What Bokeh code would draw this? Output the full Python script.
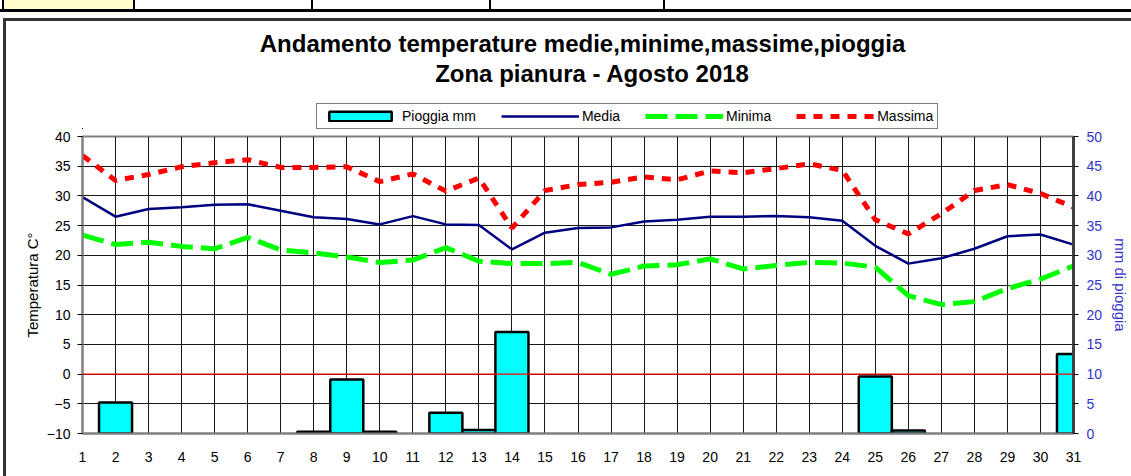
from bokeh.plotting import figure
from bokeh.models import (Range1d, LinearAxis, FixedTicker, Span, Legend, Label,
                          LegendItem, ColumnDataSource, Div)
from bokeh.layouts import column, row
from bokeh.embed import file_html
from bokeh.resources import INLINE

# ---------------- data ----------------
days = list(range(1, 32))
day_labels = [str(d) for d in days]
rain_mm = [0, 5.2, 0, 0, 0, 0, 0, 0.3, 9.1, 0.3, 0, 3.5, 0.6, 17.1, 0, 0, 0, 0, 0, 0,
           0, 0, 0, 0, 9.6, 0.5, 0, 0, 0, 0, 13.4]
media = [29.8, 26.5, 27.8, 28.1, 28.5, 28.6, 27.5, 26.4, 26.1, 25.2, 26.6, 25.2, 25.1, 21.0,
         23.8, 24.6, 24.7, 25.7, 26.0, 26.5, 26.5, 26.6, 26.4, 25.8, 21.6, 18.6, 19.5, 21.1,
         23.2, 23.5, 21.8]
minima = [23.4, 21.8, 22.2, 21.5, 21.1, 23.0, 20.9, 20.4, 19.7, 18.8, 19.2, 21.3, 19.0, 18.6,
          18.6, 18.8, 16.8, 18.2, 18.4, 19.4, 17.7, 18.3, 18.8, 18.7, 18.0, 13.2, 11.7, 12.2,
          14.4, 16.0, 18.2]
massima = [36.8, 32.6, 33.6, 34.9, 35.6, 36.1, 34.8, 34.8, 34.9, 32.4, 33.7, 30.8, 33.0, 24.6,
           30.9, 31.9, 32.3, 33.2, 32.7, 34.2, 33.9, 34.6, 35.4, 34.3, 26.0, 23.6, 27.0, 30.9,
           31.9, 30.4, 28.1]
temp_ticks = list(range(-10, 45, 5))
rain_ticks = list(range(0, 55, 5))
title_1 = "Andamento temperature medie,minime,massime,pioggia"
title_2 = "Zona pianura - Agosto 2018"
legend_labels = ["Pioggia mm", "Media", "Minima", "Massima"]

FONT = "Liberation Sans"
BLUE = "#3333CC"
RAIN_STYLE = dict(fill_color="#00FFFF", line_color="black", line_width=2.5)
MEDIA_STYLE = dict(line_color="#000080", line_width=2.5)
MIN_STYLE = dict(line_color="#00FF00", line_width=5, line_dash="22 8")
MAX_STYLE = dict(line_color="#FF0000", line_width=5, line_dash="9 8")

rain_src = ColumnDataSource(data=dict(
    x=[d for d, r in zip(days, rain_mm) if r > 0],
    top=[r for r in rain_mm if r > 0]))

HEAD_W, HEAD_H = 1125, 108
TOP_GAP = 7

# ---------------- header figure: titles + legend ----------------
# Its data ranges lie away from the data, so the series drawn here only
# serve as legend samples; texts are placed in screen units.
hf = figure(width=HEAD_W, height=HEAD_H, output_backend="svg", toolbar_location=None,
            x_axis_type=None, y_axis_type=None, title=None,
            x_range=Range1d(1000, 2000), y_range=Range1d(1000, 2000), min_border=0,
            background_fill_color="white", border_fill_color="white")
hf.outline_line_color = None
hf.grid.visible = False

hf.add_layout(Label(x=500, y=86, x_units="screen", y_units="screen", text=title_1,
                    text_align="center", text_baseline="alphabetic", text_font=FONT,
                    text_font_size="24px", text_font_style="bold", text_color="black"))
hf.add_layout(Label(x=510, y=56, x_units="screen", y_units="screen", text=title_2,
                    text_align="center", text_baseline="alphabetic", text_font=FONT,
                    text_font_size="24px", text_font_style="bold", text_color="black"))

lg_bar = hf.vbar(x="x", top="top", bottom=0, width=1.0, source=rain_src, **RAIN_STYLE)
lg_media = hf.line(days, media, **MEDIA_STYLE)
lg_min = hf.line(days, minima, **MIN_STYLE)
lg_max = hf.line(days, massima, **MAX_STYLE)
legend = Legend(items=[LegendItem(label=lab, renderers=[r]) for lab, r in
                       zip(legend_labels, (lg_bar, lg_media, lg_min, lg_max))],
                orientation="horizontal", location=(234, 0))
legend.label_text_font = FONT
legend.label_text_font_size = "14px"
legend.label_text_color = "black"
legend.glyph_width = 78
legend.glyph_height = 12
legend.label_height = 15
legend.label_standoff = 3
legend.spacing = 25
legend.padding = 4
legend.margin = 0
legend.border_line_color = "black"
legend.border_line_width = 1
legend.background_fill_color = "white"
legend.background_fill_alpha = 1
hf.add_layout(legend)

# ---------------- main chart ----------------
p = figure(frame_width=991, frame_height=297, output_backend="svg",
           toolbar_location=None, title=None,
           x_range=Range1d(1, 31), y_range=Range1d(-10, 40),
           min_border_left=76, min_border_right=58, min_border_top=TOP_GAP,
           min_border_bottom=43, background_fill_color="white",
           border_fill_color="white")
p.extra_y_ranges = {"rain": Range1d(0, 50)}

p.outline_line_color = "#808080"
p.outline_line_width = 2

p.xgrid.ticker = FixedTicker(ticks=days)
p.ygrid.ticker = FixedTicker(ticks=temp_ticks)
for g in (p.xgrid, p.ygrid):
    g.grid_line_color = "black"
    g.grid_line_width = 1
    g.grid_line_alpha = 0.9

xa = p.xaxis[0]
xa.ticker = FixedTicker(ticks=days)
xa.major_label_overrides = {d: s for d, s in zip(days, day_labels)}
xa.major_tick_out = 0
xa.major_tick_in = 0
xa.minor_tick_out = 0
xa.minor_tick_in = 0
xa.axis_line_color = "#808080"
xa.axis_line_width = 2
xa.major_label_standoff = 18
xa.major_label_text_font = FONT
xa.major_label_text_font_size = "14px"
xa.major_label_text_color = "black"

ya = p.yaxis[0]
ya.ticker = FixedTicker(ticks=temp_ticks)
ya.major_tick_out = 5
ya.major_tick_in = 0
ya.minor_tick_out = 0
ya.minor_tick_in = 0
ya.major_tick_line_color = "black"
ya.axis_line_color = "#808080"
ya.axis_line_width = 2
ya.major_label_standoff = 7
ya.major_label_text_font = FONT
ya.major_label_text_font_size = "14px"
ya.major_label_text_color = "black"
ya.axis_label = "Temperatura C°"
ya.axis_label_text_font = FONT
ya.axis_label_text_font_size = "15px"
ya.axis_label_text_font_style = "normal"
ya.axis_label_text_color = "black"
ya.axis_label_standoff = 3

ra = LinearAxis(y_range_name="rain", ticker=FixedTicker(ticks=rain_ticks))
ra.major_tick_out = 5
ra.major_tick_in = 0
ra.minor_tick_out = 0
ra.minor_tick_in = 0
ra.major_tick_line_color = "black"
ra.axis_line_color = "#404040"
ra.axis_line_width = 3
ra.major_label_standoff = 8
ra.major_label_text_font = FONT
ra.major_label_text_font_size = "14px"
ra.major_label_text_color = BLUE
ra.axis_label = "mm di pioggia"
ra.axis_label_text_font = FONT
ra.axis_label_text_font_size = "15px"
ra.axis_label_text_font_style = "normal"
ra.axis_label_text_color = BLUE
ra.axis_label_standoff = 7
p.add_layout(ra, "right")

p.vbar(x="x", top="top", bottom=0, width=1.0, source=rain_src,
       y_range_name="rain", **RAIN_STYLE)

p.add_layout(Span(location=0, dimension="width", line_color="#FF0000", line_width=1.2))

p.line(days, media, **MEDIA_STYLE)
p.line(days, minima, **MIN_STYLE)
p.line(days, massima, **MAX_STYLE)

# ---------------- page header strip and chart-box border ----------------
FIG_H = HEAD_H + TOP_GAP + 297 + 43
cells = "".join(
    f'<div style="position:absolute;left:{x}px;top:0;width:2px;height:12px;background:#000"></div>'
    for x in (2, 133, 311, 489, 663))
header = Div(width=1131, height=21, margin=0, text=(
    '<div style="position:relative;width:1131px;height:21px;background:#fff;overflow:hidden">'
    '<div style="position:absolute;left:4px;top:0;width:129px;height:9px;background:#FFFFCC"></div>'
    '<div style="position:absolute;left:0;top:9px;width:1131px;height:3px;background:#000"></div>'
    + cells +
    '<div style="position:absolute;left:3px;top:18px;width:1128px;height:3px;background:#333"></div>'
    '</div>'))
left_border = Div(width=6, height=FIG_H, margin=0, text=(
    f'<div style="position:relative;width:6px;height:{FIG_H}px;background:#fff">'
    f'<div style="position:absolute;left:3px;top:0;width:3px;height:{FIG_H}px;background:#333"></div>'
    '</div>'))

layout = column(header, row(left_border, column(hf, p, spacing=0), spacing=0), spacing=0)

open("out.html", "w").write(file_html(layout, INLINE))
